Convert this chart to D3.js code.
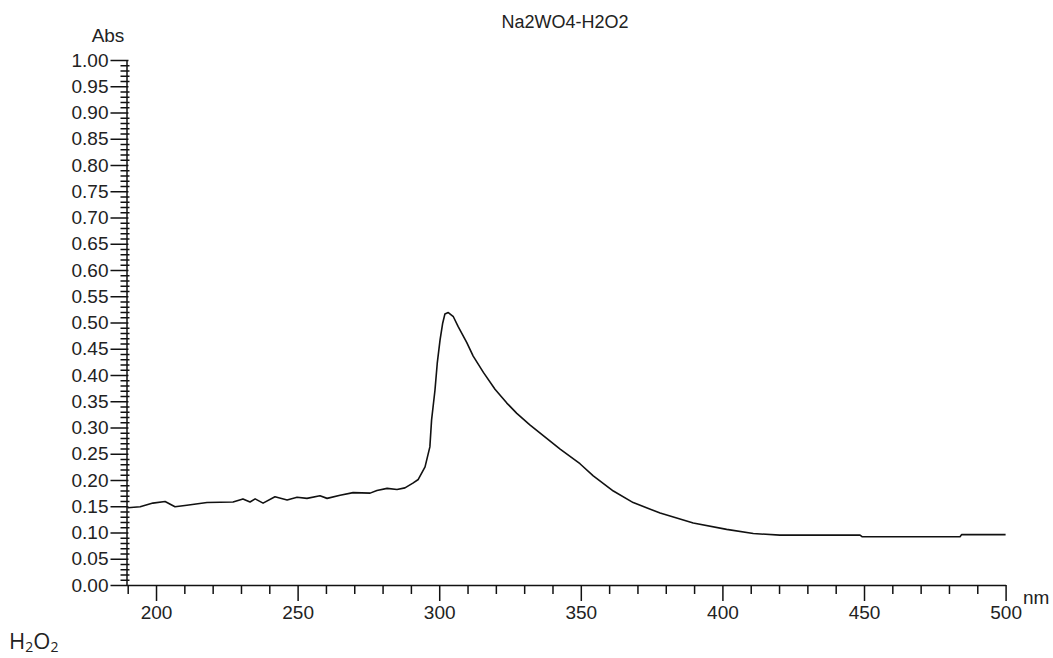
<!DOCTYPE html>
<html>
<head>
  <meta charset="UTF-8" />
  <title>Na2WO4-H2O2</title>
  <script src="https://cdn.jsdelivr.net/npm/d3@7/dist/d3.min.js"></script>
  <style>
    body { margin: 0; background: #fff; }
    text { font-family: "Liberation Sans", Arial, sans-serif; fill: #222; }
  </style>
</head>
<body>
  <svg width="1053" height="658"></svg>
  <script>
    // 读出来的光谱数据
    var wavelength = [190, 194.4, 198.9, 203.2, 206.7, 210.9, 218, 227.2, 230.7, 233.2,
      235, 237.8, 242, 246.3, 249.8, 253.3, 257.9, 260.4, 265, 269.6,
      275.6, 278, 281.6, 285.1, 287.9, 290.7, 292.6, 295, 296.7, 297.3,
      298.5, 299.3, 300.3, 301.2, 302, 303.2, 305, 306.7, 309.7, 312,
      315.6, 319.7, 323.8, 327.4, 332, 342.7, 349.7, 354.4, 361.5, 368.5,
      378, 389.7, 401.5, 410.9, 420.3, 448.6, 449.3, 483.9, 484.5, 500];
    var absorbance = [0.147, 0.149, 0.156, 0.159, 0.149, 0.152, 0.157, 0.158, 0.164, 0.158,
      0.164, 0.156, 0.168, 0.162, 0.167, 0.165, 0.170, 0.165, 0.171, 0.176,
      0.175, 0.180, 0.184, 0.182, 0.185, 0.194, 0.201, 0.225, 0.263, 0.314,
      0.371, 0.422, 0.467, 0.498, 0.516, 0.519, 0.511, 0.492, 0.462, 0.436,
      0.405, 0.373, 0.347, 0.327, 0.305, 0.259, 0.231, 0.208, 0.179, 0.157,
      0.137, 0.118, 0.106, 0.098, 0.095, 0.095, 0.092, 0.092, 0.096, 0.096];

    var xMajor = d3.range(200, 501, 50);
    var xMinor = d3.range(190, 501, 10).filter(function (v) { return v % 50 !== 0; });
    var yMajor = d3.range(0, 21).map(function (i) { return i * 0.05; });
    var yMinor = d3.range(0, 101).filter(function (i) { return i % 5 !== 0; }).map(function (i) { return i / 100; });

    var svg = d3.select("svg");
    var x = d3.scaleLinear().domain([190, 500]).range([127.7, 1005.6]);
    var y = d3.scaleLinear().domain([0, 1]).range([585, 60]);

    // x轴
    var gx = svg.append("g").attr("transform", "translate(0,585)");
    gx.call(d3.axisBottom(x).tickValues(xMinor).tickSize(9).tickSizeOuter(0).tickFormat(""));
    gx.append("g").call(d3.axisBottom(x).tickValues(xMajor).tickSize(16).tickSizeOuter(0).tickPadding(5))
      .call(function (g) { g.select(".domain").remove(); });
    gx.selectAll(".domain").attr("stroke", "#111").attr("stroke-width", 1.5);
    gx.selectAll("line").attr("stroke", "#111").attr("stroke-width", 1.5);
    gx.selectAll("text").attr("font-size", 19).attr("fill", "#222")
      .attr("font-family", "Liberation Sans, Arial, sans-serif");

    // y轴
    var gy = svg.append("g").attr("transform", "translate(126.5,0)");
    gy.call(d3.axisLeft(y).tickValues(yMinor).tickSize(6).tickSizeOuter(0).tickFormat(""));
    gy.selectAll(".tick line").attr("x1", 3);
    var gyMajor = gy.append("g").call(d3.axisLeft(y).tickValues(yMajor).tickSize(16).tickSizeOuter(0)
      .tickPadding(2).tickFormat(d3.format(".2f")));
    gyMajor.select(".domain").remove();
    gyMajor.selectAll(".tick line").attr("x1", 2);
    gy.selectAll(".domain").attr("stroke", "#111").attr("stroke-width", 1.5);
    gy.selectAll("line").attr("stroke", "#111").attr("stroke-width", 1.5);
    gy.selectAll("text").attr("font-size", 19).attr("fill", "#222")
      .attr("font-family", "Liberation Sans, Arial, sans-serif");

    // 曲线
    var line = d3.line()
      .x(function (d) { return x(d[0]); })
      .y(function (d) { return y(d[1]); });
    svg.append("path")
      .datum(d3.zip(wavelength, absorbance))
      .attr("d", line)
      .attr("fill", "none")
      .attr("stroke", "#111")
      .attr("stroke-width", 1.6)
      .attr("stroke-linejoin", "round");

    // 文字
    svg.append("text").attr("x", 565).attr("y", 28).attr("text-anchor", "middle")
      .attr("font-size", 18).text("Na2WO4-H2O2");
    svg.append("text").attr("x", 108).attr("y", 42).attr("text-anchor", "middle")
      .attr("font-size", 19).text("Abs");
    svg.append("text").attr("x", 1023).attr("y", 604).attr("font-size", 19).text("nm");

    var h = svg.append("text").attr("x", 9).attr("y", 649)
      .style("font-family", "'Open Sans', 'Noto Sans', sans-serif")
      .attr("font-size", 22).attr("fill", "#000");
    h.append("tspan").text("H");
    h.append("tspan").attr("font-size", 14).attr("dy", 3).text("2");
    h.append("tspan").attr("dy", -3).text("O");
    h.append("tspan").attr("font-size", 14).attr("dy", 3).text("2");
  </script>
</body>
</html>
